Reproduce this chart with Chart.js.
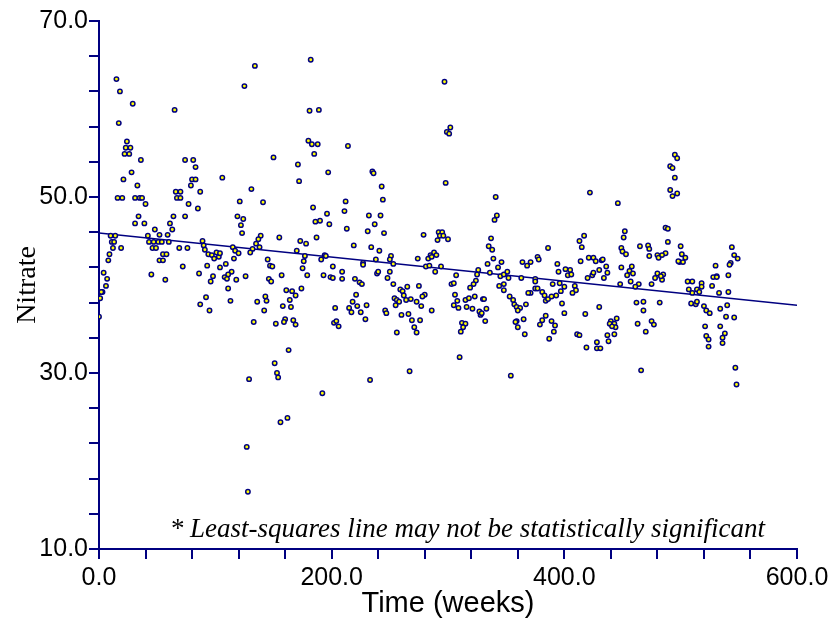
<!DOCTYPE html>
<html>
<head>
<meta charset="utf-8">
<script src="https://cdn.jsdelivr.net/npm/chart.js@4"></script>
<style>
  body { margin: 0; background: #fff; }
  #wrap { width: 839px; height: 624px; }
</style>
</head>
<body>
<div id="wrap"><canvas id="nitrateChart" width="839" height="624"></canvas></div>
<script>
const weeks = [
  0,1,3,2,6,7,4,8,9,12,19,11,13,10,14,42,48,63,52,59,43,47,51,54,60,46,49,69,76,55,58,52,55,72,45,57,89,90,91,94,97,99,101,103,104,93,104,86,98,96,92,87,95,
  15,18,29,65,17,24,23,27,22,26,36,74,81,83,28,21,80,83,33,79,106,66,70,87,16,20,31,35,37,67,70,40,77,85,34,64,74,31,39,61,
  182,134,125,181,189,180,183,188,185,150,171,197,172,131,121,141,184,196,119,124,186,190,122,198,
  123,139,137,135,138,132,130,115,117,120,116,109,114,111,108,110,118,126,111,113,155,173,178,187,170,145,147,149,157,177,176,175,179,191,194,195,201,193,199,201,146,148,161,166,169,174,143,144,136,164,158,165,142,133,152,160,159,167,169,203,202,204,206,163,151,153,154,129,192,162,156,127,128,
  297,302,299,301,214,235,236,298,243,244,212,211,232,242,237,213,
  231,245,279,292,295,293,296,291,300,219,234,241,251,250,238,253,227,227,274,283,285,288,290,286,281,284,294,289,307,209,209,220,224,226,239,240,250,248,253,265,275,259,261,262,303,305,221,254,256,258,264,268,273,280,278,306,218,222,230,215,217,225,255,277,305,309,308,315,316,319,246,247,260,266,286,229,269,276,271,273,256,312,315,313,311,310,267,233,
  341,422,342,340,
  337,335,338,339,346,334,343,326,325,336,345,348,351,352,324,322,348,344,348,323,318,330,331,321,327,333,328,329,332,353,356,357,359,362,360,367,359,358,365,360,366,354,363,375,375,364,368,371,377,378,386,371,369,375,377,381,383,384,386,389,393,381,384,379,389,392,391,387,390,396,400,397,394,395,401,405,403,406,398,400,409,410,407,414,415,417,413,420,424,425,421,425,427,430,432,433,430,418,411,413,419,428,428,431,
  495,497,491,493,495,491,497,493,446,487,489,452,451,489,449,450,453,465,472,473,473,480,481,487,500,501,504,544,546,549,
  436,437,434,449,458,456,459,454,457,484,480,485,484,478,483,475,448,464,461,499,498,502,506,510,507,510,518,518,514,516,527,530,531,528,531,541,543,542,533,541,462,468,482,468,509,513,514,520,522,525,534,540,539,546,445,440,439,443,444,441,463,475,477,470,443,437,438,521,534,522,524,524,538,536,536,466,547,548
];
const nitrate = [
  36.4,38.5,39.2,39.2,39.9,40.7,41.4,42.8,43.5,44.2,44.2,44.9,44.9,45.6,45.6,45.6,46.3,46.3,45.7,45.7,44.9,44.9,44.9,44.9,44.9,44.2,44.2,44.2,44.2,43.5,43.5,42.8,42.8,42.1,41.2,40.6,45.0,44.5,44.0,43.5,43.4,43.0,43.7,43.2,43.6,42.2,42.0,41.3,41.0,40.4,38.6,37.8,37.1,
  63.4,62.0,60.6,59.9,58.4,56.3,55.6,55.6,54.9,54.9,54.2,54.2,54.2,53.4,52.8,52.0,52.0,52.0,51.3,51.3,52.2,50.6,50.6,50.6,49.9,49.9,49.9,49.9,49.9,49.9,49.9,49.2,49.2,48.7,47.8,47.8,47.8,47.0,47.0,47.0,
  65.6,64.9,62.6,59.8,59.9,56.4,56.0,56.0,54.9,54.5,53.7,52.8,51.8,50.9,49.5,49.4,48.8,48.1,47.8,47.5,47.2,47.3,46.8,46.9,
  45.9,45.6,45.2,44.7,44.3,44.1,43.7,44.3,43.9,43.6,43.0,42.4,41.5,41.2,40.9,40.7,40.6,41.0,39.6,38.2,45.4,45.0,44.7,45.4,43.9,42.9,42.2,42.1,41.1,43.3,42.7,41.9,41.1,42.9,43.4,43.3,42.1,41.1,40.9,40.8,40.7,40.4,39.4,39.3,38.8,39.6,38.7,38.2,38.1,38.3,37.6,37.5,37.1,35.8,35.6,36.1,35.8,36.0,35.5,37.4,35.7,35.9,35.3,32.6,31.1,30.0,29.5,29.3,27.7,24.9,24.4,21.6,16.5,
  63.1,57.9,57.4,57.2,55.8,52.9,52.7,51.6,51.2,49.7,49.5,48.4,47.9,47.9,46.9,46.4,
  46.1,45.9,45.7,46.0,46.0,45.6,45.6,45.1,45.2,44.5,44.3,43.9,43.3,42.9,42.9,42.4,42.5,42.3,43.0,43.0,43.4,43.7,43.4,43.2,42.1,42.2,42.1,41.5,41.1,41.5,40.7,40.7,40.3,40.1,41.3,41.5,41.5,40.8,40.1,39.8,39.9,39.5,39.3,38.8,40.1,40.2,38.9,38.5,38.3,38.1,38.3,38.4,38.1,38.9,38.7,38.9,38.1,37.6,37.7,37.4,36.9,36.9,37.7,37.6,37.7,37.4,38.2,38.3,37.5,39.7,37.1,36.8,36.6,36.7,37.1,36.1,36.0,36.0,35.2,34.6,34.6,35.7,35.6,35.2,34.7,31.8,30.2,29.2,
  50.0,50.5,47.9,47.4,
  45.3,44.4,44.0,43.0,42.6,42.4,42.0,41.7,41.2,41.4,41.0,41.2,41.5,40.8,40.5,40.1,40.1,39.9,39.4,38.7,38.5,38.4,38.4,37.3,37.0,37.3,36.6,36.8,35.9,38.7,38.3,37.8,37.5,37.4,37.1,37.8,35.9,35.8,36.1,35.2,34.4,29.7,40.8,40.7,40.4,42.6,42.2,42.6,43.2,42.9,44.2,39.1,39.1,39.6,39.6,39.2,38.8,38.2,38.4,38.7,38.8,36.0,36.5,35.5,35.9,35.4,34.7,33.9,40.1,40.2,39.8,39.3,42.4,41.5,41.8,41.7,41.1,41.2,37.9,36.8,39.9,39.4,39.1,42.7,44.3,45.6,45.0,40.8,41.1,41.4,43.1,43.1,42.7,41.7,42.8,42.9,37.5,36.7,34.4,34.3,32.9,33.5,32.8,32.8,
  54.8,54.4,53.5,53.3,52.2,50.8,50.4,50.1,49.3,46.5,46.4,46.1,45.4,44.9,44.2,43.8,43.5,44.4,44.5,44.1,43.3,43.4,43.1,43.6,44.4,43.5,43.1,44.3,43.4,43.0,
  42.1,41.4,40.8,42.0,42.1,41.6,41.3,41.1,40.4,43.4,41.3,41.2,40.6,40.8,41.0,40.1,40.1,40.1,39.8,42.6,42.7,42.6,40.4,40.4,39.5,39.1,40.2,39.8,39.5,39.2,39.9,42.2,41.0,40.9,40.9,41.1,42.5,42.3,39.1,39.2,38.0,38.1,38.0,37.1,37.9,37.8,38.1,37.6,37.1,36.8,37.3,37.7,36.4,36.3,36.2,35.9,35.6,35.6,35.2,35.3,35.6,35.9,35.5,34.7,34.4,34.3,33.6,35.3,35.3,34.2,33.8,33.0,34.5,34.0,33.4,30.3,30.6,28.7
];

// Least-squares line end points
const trendWeeks = [0, 600];
const trendNitrate = [45.9, 37.7];

// Labelled ticks
const xTickLabels = [0, 200, 400, 600];
const yTickLabels = [10, 30, 50, 70];

const navy = "#000080";

const scatterData = weeks.map((w, i) => ({ x: w, y: nitrate[i] }));
const trendData = trendWeeks.map((w, i) => ({ x: w, y: trendNitrate[i] }));

// footnote inside the plot
const footnotePlugin = {
  id: "footnote",
  afterDraw(chart) {
    const ctx = chart.ctx;
    const area = chart.chartArea;
    ctx.save();
    ctx.font = 'italic 27px "Liberation Serif", "Times New Roman", serif';
    ctx.fillStyle = "#000";
    ctx.textAlign = "right";
    ctx.textBaseline = "alphabetic";
    ctx.fillText("* Least-squares line may not be statistically significant", area.right - 32, area.bottom - 12);
    ctx.restore();
  }
};

new Chart(document.getElementById("nitrateChart"), {
  type: "scatter",
  data: {
    datasets: [
      {
        label: "Nitrate",
        data: scatterData,
        pointRadius: 2.2,
        pointHoverRadius: 2.2,
        borderWidth: 1.5,
        borderColor: navy,
        backgroundColor: "#ffff00"
      },
      {
        type: "line",
        label: "Least-squares",
        data: trendData,
        borderColor: navy,
        borderWidth: 1.5,
        pointRadius: 0,
        fill: false
      }
    ]
  },
  options: {
    responsive: false,
    animation: false,
    devicePixelRatio: 1,
    layout: { padding: { top: 21, right: 42, left: 0, bottom: 0 } },
    plugins: {
      legend: { display: false },
      tooltip: { enabled: false }
    },
    scales: {
      x: {
        type: "linear",
        min: 0,
        max: 600,
        afterFit(scale) { scale.height = 75; },
        border: { display: true, color: navy, width: 2 },
        grid: { drawOnChartArea: false, drawTicks: true, tickLength: 10, color: navy, lineWidth: 2 },
        ticks: {
          stepSize: 40,
          autoSkip: false,
          maxRotation: 0,
          padding: 4,
          color: "#000",
          font: { family: '"Liberation Sans", Arial, sans-serif', size: 25 },
          callback: v => xTickLabels.includes(v) ? v.toFixed(1) : ""
        },
        title: {
          display: true,
          text: "Time (weeks)",
          color: "#000",
          font: { family: '"Liberation Sans", Arial, sans-serif', size: 29 },
          padding: { top: 0, bottom: 3 }
        }
      },
      y: {
        type: "linear",
        min: 10,
        max: 70,
        afterFit(scale) { scale.width = 99; },
        border: { display: true, color: navy, width: 2 },
        grid: { drawOnChartArea: false, drawTicks: true, tickLength: 10, color: navy, lineWidth: 2 },
        ticks: {
          stepSize: 4,
          autoSkip: false,
          padding: 1,
          color: "#000",
          font: { family: '"Liberation Sans", Arial, sans-serif', size: 25 },
          callback: v => yTickLabels.includes(v) ? v.toFixed(1) : ""
        },
        title: {
          display: true,
          text: "Nitrate",
          color: "#000",
          font: { family: '"Liberation Serif", "Times New Roman", serif', size: 28 },
          padding: { top: 11, bottom: 0 }
        }
      }
    }
  },
  plugins: [footnotePlugin]
});
</script>
</body>
</html>
